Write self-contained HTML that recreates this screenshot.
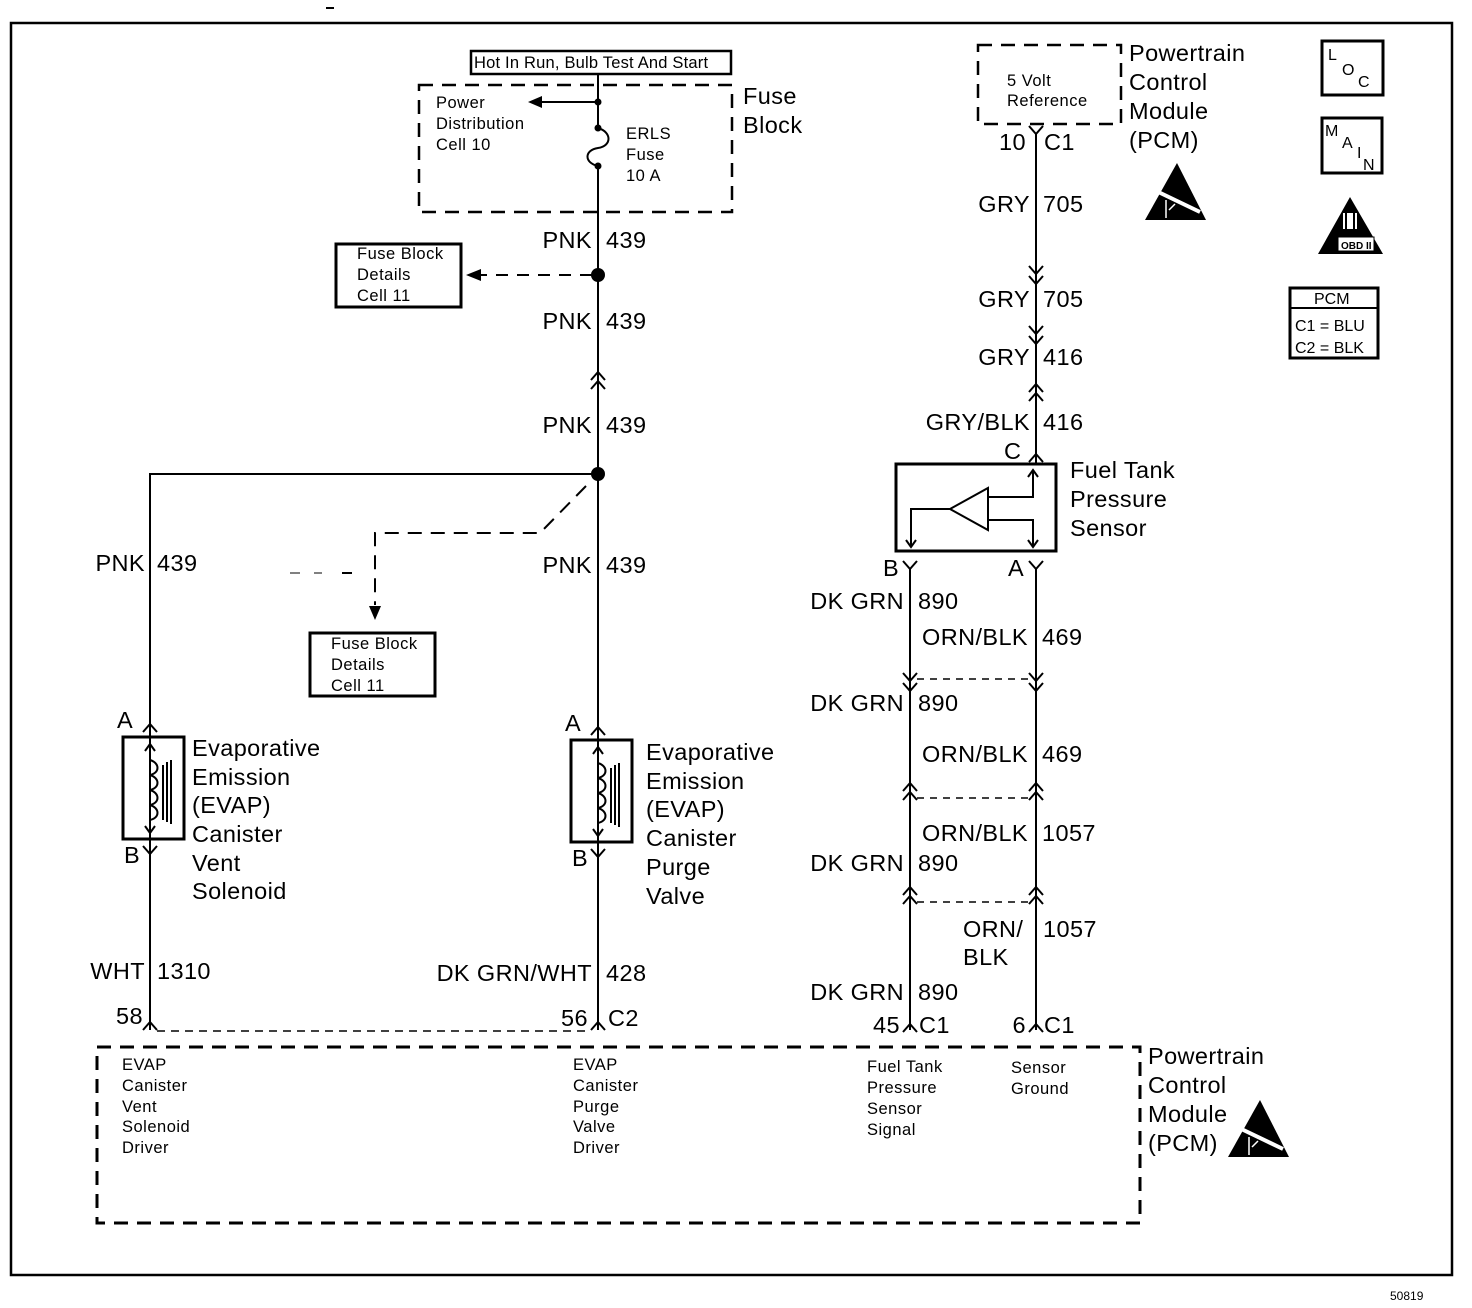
<!DOCTYPE html>
<html><head><meta charset="utf-8"><style>
html,body{margin:0;padding:0;background:#fff;}
svg{display:block;}
text{font-family:"Liberation Sans",Arial,sans-serif;fill:#000;}
.L{font-size:23.5px;letter-spacing:0.4px;}
.s{font-size:16.5px;letter-spacing:0.5px;}
</style></head><body>
<svg width="1472" height="1308" viewBox="0 0 1472 1308" xmlns="http://www.w3.org/2000/svg">
<g fill="none" stroke="#000" stroke-width="2">
<rect x="11" y="23" width="1441" height="1252" stroke-width="2.5"/>
<line x1="326" y1="8" x2="334" y2="8"/>
<rect x="471" y="51" width="260" height="23" stroke-width="2.5"/>
<rect x="419" y="85" width="313" height="127" stroke-dasharray="14,9" stroke-width="2.5"/>
<line x1="598" y1="74" x2="598" y2="128"/>
<path d="M598,128 C612,132 612,146 598,148 C584,150 584,163 598,166"/>
<line x1="598" y1="166" x2="598" y2="1030"/>
<line x1="598" y1="102" x2="540" y2="102"/>
<line x1="592" y1="275" x2="480" y2="275" stroke-dasharray="12,9"/>
<rect x="336" y="244" width="125" height="63" stroke-width="3"/>
<path d="M591,380 L598,372 L605,380 M591,389 L598,381 L605,389"/>
<polyline points="598,474 150,474 150,1030"/>
<polyline points="586,486 540,533 375,533 375,605" stroke-dasharray="14,9"/>
<line x1="290" y1="573" x2="300" y2="573" stroke-width="1"/>
<line x1="314" y1="573" x2="322" y2="573" stroke-width="1"/>
<line x1="342" y1="573" x2="352" y2="573"/>
<rect x="310" y="633" width="125" height="63" stroke-width="3"/>
<path d="M143,732 L150,724 L157,732"/>
<rect x="123" y="737" width="61" height="102" stroke-width="3"/>
<line x1="150" y1="839" x2="150" y2="846"/>
<path d="M143,846 L150,854 L157,846"/>
<path d="M150,745 L150,760 C160,763 160,773 150,775 C160,778 160,788 150,790 C160,793 160,803 150,805 C160,808 160,818 150,820 L150,832"/>
<path d="M145,751 L150,744 L155,751 M145,826 L150,833 L155,826"/>
<line x1="163" y1="765" x2="163" y2="820"/><line x1="167" y1="762" x2="167" y2="822"/><line x1="171" y1="760" x2="171" y2="824"/>
<path d="M591,735 L598,727 L605,735"/>
<rect x="571" y="740" width="61" height="102" stroke-width="3"/>
<path d="M591,849 L598,857 L605,849"/>
<path d="M598,748 L598,763 C608,766 608,776 598,778 C608,781 608,791 598,793 C608,796 608,806 598,808 C608,811 608,821 598,823 L598,835"/>
<path d="M593,754 L598,747 L603,754 M593,829 L598,836 L603,829"/>
<line x1="611" y1="768" x2="611" y2="823"/><line x1="615" y1="765" x2="615" y2="825"/><line x1="619" y1="763" x2="619" y2="827"/>
<path d="M143,1030 L150,1022 L157,1030 M591,1030 L598,1022 L605,1030"/>
<line x1="157" y1="1031" x2="591" y2="1031" stroke-dasharray="8,6" stroke-width="1.5"/>
<rect x="97" y="1047" width="1043" height="176" stroke-dasharray="14,9" stroke-width="3"/>
<rect x="978" y="45" width="143" height="79" stroke-dasharray="14,9" stroke-width="2.5"/>
<path d="M1029,126 L1036,134 L1043,126"/>
<line x1="1036" y1="134" x2="1036" y2="463"/>
<path d="M1029,266 L1036,274 L1043,266 M1029,276 L1036,284 L1043,276"/>
<path d="M1029,326 L1036,334 L1043,326 M1029,336 L1036,344 L1043,336"/>
<path d="M1029,392 L1036,384 L1043,392 M1029,401 L1036,393 L1043,401"/>
<path d="M1029,462 L1036,454 L1043,462"/>
<rect x="896" y="464" width="160" height="87" stroke-width="3"/>
<polygon points="950,509 988,488 988,530"/>
<polyline points="988,497 1033,497 1033,471"/>
<path d="M1028,477 L1033,470 L1038,477"/>
<polyline points="988,520 1033,520 1033,546"/>
<path d="M1028,540 L1033,547 L1038,540"/>
<polyline points="950,509 911,509 911,546"/>
<path d="M906,540 L911,547 L916,540"/>
<path d="M903,561 L910,569 L917,561 M1029,561 L1036,569 L1043,561"/>
<line x1="910" y1="569" x2="910" y2="1030"/>
<line x1="1036" y1="569" x2="1036" y2="1030"/>
<path d="M903,673 L910,681 L917,673 M903,683 L910,691 L917,683"/>
<path d="M1029,673 L1036,681 L1043,673 M1029,683 L1036,691 L1043,683"/>
<line x1="917" y1="679" x2="1029" y2="679" stroke-dasharray="7,6" stroke-width="1.5"/>
<path d="M903,791 L910,783 L917,791 M903,800 L910,792 L917,800"/>
<path d="M1029,791 L1036,783 L1043,791 M1029,800 L1036,792 L1043,800"/>
<line x1="917" y1="798" x2="1029" y2="798" stroke-dasharray="7,6" stroke-width="1.5"/>
<path d="M903,895 L910,887 L917,895 M903,904 L910,896 L917,904"/>
<path d="M1029,895 L1036,887 L1043,895 M1029,904 L1036,896 L1043,904"/>
<line x1="917" y1="902" x2="1029" y2="902" stroke-dasharray="7,6" stroke-width="1.5"/>
<path d="M903,1032 L910,1024 L917,1032 M1029,1032 L1036,1024 L1043,1032"/>
<rect x="1322" y="41" width="61" height="54" stroke-width="3"/>
<rect x="1322" y="118" width="60" height="55" stroke-width="3"/>
<rect x="1290" y="288" width="88" height="70" stroke-width="3"/>
<line x1="1290" y1="308" x2="1378" y2="308" stroke-width="2"/>
</g>
<g fill="#000">
<circle cx="598" cy="275" r="7"/>
<circle cx="598" cy="474" r="7"/>
<circle cx="598" cy="102" r="3.5"/>
<circle cx="598" cy="128" r="3.5"/>
<circle cx="598" cy="166" r="3.5"/>
<polygon points="528,102 542,96 542,108"/>
<polygon points="466,275 481,269 481,281"/>
<polygon points="375,620 369,606 381,606"/>
<polygon points="1350,197 1318,254 1383,254"/>
<polygon points="1177,163 1145,220 1206,220"/>
<polygon points="1260,1100 1228,1157 1289,1157"/>
</g>
<!-- ESD white stripes -->
<g stroke="#fff" stroke-width="4" fill="none">
<line x1="1150" y1="188" x2="1200" y2="212"/>
<line x1="1233" y1="1125" x2="1283" y2="1149"/>
</g>
<g stroke="#fff" stroke-width="1.5" fill="none">
<path d="M1166,218 L1166,200 M1169,210 L1175,204"/>
<path d="M1249,1155 L1249,1137 M1252,1147 L1258,1141"/>
</g>
<rect x="1338" y="237" width="36" height="14" fill="#fff" stroke="#000" stroke-width="1"/>
<rect x="1343" y="211" width="14" height="20" fill="#fff"/>
<line x1="1346" y1="213" x2="1346" y2="229" stroke="#000" stroke-width="2"/>
<line x1="1354" y1="213" x2="1354" y2="229" stroke="#000" stroke-width="2"/>
<line x1="1342" y1="212" x2="1358" y2="212" stroke="#000" stroke-width="2"/>
<line x1="1342" y1="230" x2="1358" y2="230" stroke="#000" stroke-width="2"/>
<text x="1341" y="249" style="font-size:10px;font-weight:bold">OBD II</text>

<text class="s" x="474" y="68" style="letter-spacing:0.2px">Hot In Run, Bulb Test And Start</text>
<text class="s" x="436" y="108">Power</text>
<text class="s" x="436" y="129">Distribution</text>
<text class="s" x="436" y="150">Cell 10</text>
<text class="s" x="626" y="139">ERLS</text>
<text class="s" x="626" y="160">Fuse</text>
<text class="s" x="626" y="181">10 A</text>
<text class="L" x="743" y="104">Fuse</text>
<text class="L" x="743" y="133">Block</text>
<text class="s" x="357" y="259">Fuse Block</text>
<text class="s" x="357" y="280">Details</text>
<text class="s" x="357" y="301">Cell 11</text>
<text class="s" x="331" y="649">Fuse Block</text>
<text class="s" x="331" y="670">Details</text>
<text class="s" x="331" y="691">Cell 11</text>
<text class="L" x="592" y="248" text-anchor="end">PNK</text><text class="L" x="606" y="248">439</text>
<text class="L" x="592" y="329" text-anchor="end">PNK</text><text class="L" x="606" y="329">439</text>
<text class="L" x="592" y="433" text-anchor="end">PNK</text><text class="L" x="606" y="433">439</text>
<text class="L" x="592" y="573" text-anchor="end">PNK</text><text class="L" x="606" y="573">439</text>
<text class="L" x="145" y="571" text-anchor="end">PNK</text><text class="L" x="157" y="571">439</text>
<text class="L" x="117" y="728">A</text><text class="L" x="124" y="863">B</text>
<text class="L" x="565" y="731">A</text><text class="L" x="572" y="866">B</text>
<text class="L" x="192" y="756">Evaporative</text>
<text class="L" x="192" y="785">Emission</text>
<text class="L" x="192" y="813">(EVAP)</text>
<text class="L" x="192" y="842">Canister</text>
<text class="L" x="192" y="871">Vent</text>
<text class="L" x="192" y="899">Solenoid</text>
<text class="L" x="646" y="760">Evaporative</text>
<text class="L" x="646" y="789">Emission</text>
<text class="L" x="646" y="817">(EVAP)</text>
<text class="L" x="646" y="846">Canister</text>
<text class="L" x="646" y="875">Purge</text>
<text class="L" x="646" y="904">Valve</text>
<text class="L" x="145" y="979" text-anchor="end">WHT</text><text class="L" x="157" y="979">1310</text>
<text class="L" x="592" y="981" text-anchor="end">DK GRN/WHT</text><text class="L" x="606" y="981">428</text>
<text class="L" x="143" y="1024" text-anchor="end">58</text>
<text class="L" x="588" y="1026" text-anchor="end">56</text><text class="L" x="608" y="1026">C2</text>
<text class="L" x="1026" y="150" text-anchor="end">10</text><text class="L" x="1044" y="150">C1</text>
<text class="L" x="1129" y="61">Powertrain</text>
<text class="L" x="1129" y="90">Control</text>
<text class="L" x="1129" y="119">Module</text>
<text class="L" x="1129" y="148">(PCM)</text>
<text class="L" x="1030" y="212" text-anchor="end">GRY</text><text class="L" x="1043" y="212">705</text>
<text class="L" x="1030" y="307" text-anchor="end">GRY</text><text class="L" x="1043" y="307">705</text>
<text class="L" x="1030" y="365" text-anchor="end">GRY</text><text class="L" x="1043" y="365">416</text>
<text class="L" x="1030" y="430" text-anchor="end">GRY/BLK</text><text class="L" x="1043" y="430">416</text>
<text class="L" x="1004" y="459">C</text>
<text class="L" x="1070" y="478">Fuel Tank</text>
<text class="L" x="1070" y="507">Pressure</text>
<text class="L" x="1070" y="536">Sensor</text>
<text class="L" x="883" y="576">B</text><text class="L" x="1008" y="576">A</text>
<text class="L" x="904" y="609" text-anchor="end">DK GRN</text><text class="L" x="918" y="609">890</text>
<text class="L" x="1028" y="645" text-anchor="end">ORN/BLK</text><text class="L" x="1042" y="645">469</text>
<text class="L" x="904" y="711" text-anchor="end">DK GRN</text><text class="L" x="918" y="711">890</text>
<text class="L" x="1028" y="762" text-anchor="end">ORN/BLK</text><text class="L" x="1042" y="762">469</text>
<text class="L" x="1028" y="841" text-anchor="end">ORN/BLK</text><text class="L" x="1042" y="841">1057</text>
<text class="L" x="904" y="871" text-anchor="end">DK GRN</text><text class="L" x="918" y="871">890</text>
<text class="L" x="963" y="937">ORN/</text><text class="L" x="963" y="965">BLK</text><text class="L" x="1043" y="937">1057</text>
<text class="L" x="904" y="1000" text-anchor="end">DK GRN</text><text class="L" x="918" y="1000">890</text>
<text class="L" x="900" y="1033" text-anchor="end">45</text><text class="L" x="919" y="1033">C1</text>
<text class="L" x="1026" y="1033" text-anchor="end">6</text><text class="L" x="1044" y="1033">C1</text>
<text class="L" x="1148" y="1064">Powertrain</text>
<text class="L" x="1148" y="1093">Control</text>
<text class="L" x="1148" y="1122">Module</text>
<text class="L" x="1148" y="1151">(PCM)</text>
<text class="s" x="1007" y="86">5 Volt</text>
<text class="s" x="1007" y="106">Reference</text>
<text class="s" x="122" y="1070">EVAP</text><text class="s" x="122" y="1091">Canister</text><text class="s" x="122" y="1112">Vent</text><text class="s" x="122" y="1132">Solenoid</text><text class="s" x="122" y="1153">Driver</text>
<text class="s" x="573" y="1070">EVAP</text><text class="s" x="573" y="1091">Canister</text><text class="s" x="573" y="1112">Purge</text><text class="s" x="573" y="1132">Valve</text><text class="s" x="573" y="1153">Driver</text>
<text class="s" x="867" y="1072">Fuel Tank</text><text class="s" x="867" y="1093">Pressure</text><text class="s" x="867" y="1114">Sensor</text><text class="s" x="867" y="1135">Signal</text>
<text class="s" x="1011" y="1073">Sensor</text><text class="s" x="1011" y="1094">Ground</text>
<text x="1328" y="60" style="font-size:16px">L</text><text x="1342" y="75" style="font-size:16px">O</text><text x="1358" y="87" style="font-size:16px">C</text>
<text x="1325" y="136" style="font-size:16px">M</text><text x="1342" y="148" style="font-size:16px">A</text><text x="1357" y="158" style="font-size:16px">I</text><text x="1363" y="170" style="font-size:16px">N</text>
<text x="1314" y="304" style="font-size:16px">PCM</text>
<text x="1295" y="331" style="font-size:16px">C1 = BLU</text>
<text x="1295" y="353" style="font-size:16px">C2 = BLK</text>
<text x="1390" y="1300" style="font-size:12px">50819</text>
</svg>
</body></html>
